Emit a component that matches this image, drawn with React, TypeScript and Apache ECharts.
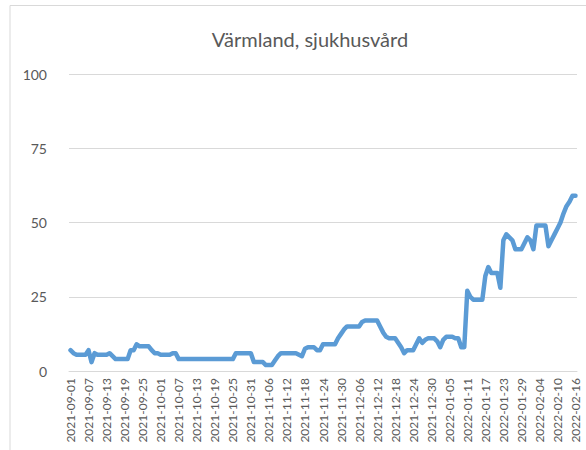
import React, { useEffect, useRef } from "react";
import * as echarts from "echarts";

const TITLE = "Värmland, sjukhusvård";
const START_DATE = "2021-09-01";
const DAY_COUNT = 169;

// Daily values (2021-09-01 .. 2022-02-16)
const sep2021 = [7, 6, 5.5, 5.5, 5.5, 5.5, 7, 3, 6, 5.5, 5.5, 5.5, 5.5, 6, 5, 4, 4, 4, 4, 4, 7, 7, 9, 8.3, 8.3, 8.3, 8.3, 7, 6, 6];
const oct2021 = [5.5, 5.5, 5.5, 5.5, 6, 6, 4, 4, 4, 4, 4, 4, 4, 4, 4, 4, 4, 4, 4, 4, 4, 4, 4, 4, 4, 6, 6, 6, 6, 6, 6];
const nov2021 = [3, 3, 3, 3, 2, 2, 2, 3.5, 5, 6, 6, 6, 6, 6, 6, 5.5, 5, 7.5, 8, 8, 8, 7, 7, 9, 9, 9, 9, 9, 11, 12.5];
const dec2021 = [14, 15, 15, 15, 15, 15, 16.5, 17, 17, 17, 17, 17, 15, 13, 11.5, 11, 11, 11, 9.5, 8, 6, 7, 7, 7, 9, 11, 9.5, 10.5, 11, 11, 11];
const jan2022 = [10, 8, 10.5, 11.5, 11.5, 11.5, 11, 11, 8, 8, 27, 25, 24, 24, 24, 24, 32, 35, 33, 33, 33, 28, 44, 46, 45, 44, 41, 41, 41, 43, 45];
const feb2022 = [44, 41, 49, 49, 49, 49, 42, 44, 46, 48, 50, 53, 55.5, 57, 59, 59];

const values = [...sep2021, ...oct2021, ...nov2021, ...dec2021, ...jan2022, ...feb2022].slice(0, DAY_COUNT);

function buildDates(start: string, n: number): string[] {
  const out: string[] = [];
  const d = new Date(start + "T00:00:00Z");
  for (let i = 0; i < n; i++) {
    const c = new Date(d.getTime() + i * 86400000);
    out.push(c.toISOString().slice(0, 10));
  }
  return out;
}
const dates = buildDates(START_DATE, DAY_COUNT);

const Y_MIN = 0;
const Y_MAX = 100;
const Y_STEP = 25;

export default function App() {
  const ref = useRef<HTMLDivElement>(null);
  useEffect(() => {
    if (!ref.current) return;
    const chart = echarts.init(ref.current, null, { renderer: "svg" });
    const font = "Lato, 'Liberation Sans', sans-serif";
    chart.setOption({
      animation: false,
      backgroundColor: "#ffffff",
      textStyle: { fontFamily: font },
      title: {
        text: TITLE,
        left: 305,
        top: 24,
        textAlign: "center",
        textStyle: { fontFamily: font, fontSize: 20, fontWeight: "normal", color: "#595959" },
      },
      graphic: [
        {
          type: "rect",
          shape: { x: 10, y: 5.5, width: 620, height: 500 },
          style: { fill: "none", stroke: "#D9D9D9", lineWidth: 1 },
          silent: true,
        },
      ],
      grid: { left: 69, right: 9, top: 74, bottom: 79 },
      xAxis: {
        type: "category",
        data: dates,
        boundaryGap: true,
        axisLine: { show: true, lineStyle: { color: "#D9D9D9", width: 1 } },
        axisTick: { show: false },
        axisLabel: {
          interval: 5,
          rotate: 90,
          fontSize: 12,
          color: "#595959",
          fontFamily: font,
          margin: 7,
        },
      },
      yAxis: {
        type: "value",
        min: Y_MIN,
        max: Y_MAX,
        interval: Y_STEP,
        axisLine: { show: false },
        axisTick: { show: false },
        splitLine: { lineStyle: { color: "#D9D9D9", width: 1 } },
        axisLabel: { fontSize: 14, color: "#595959", fontFamily: font, margin: 22 },
      },
      series: [
        {
          type: "line",
          data: values,
          showSymbol: false,
          symbol: "none",
          lineStyle: { color: "#5B9BD5", width: 4.5, cap: "round", join: "round" },
          itemStyle: { color: "#5B9BD5" },
        },
      ],
    });
    return () => chart.dispose();
  }, []);
  return (
    <div
      ref={ref}
      style={{ position: "fixed", left: 0, top: 0, width: 586, height: 450 }}
    />
  );
}
